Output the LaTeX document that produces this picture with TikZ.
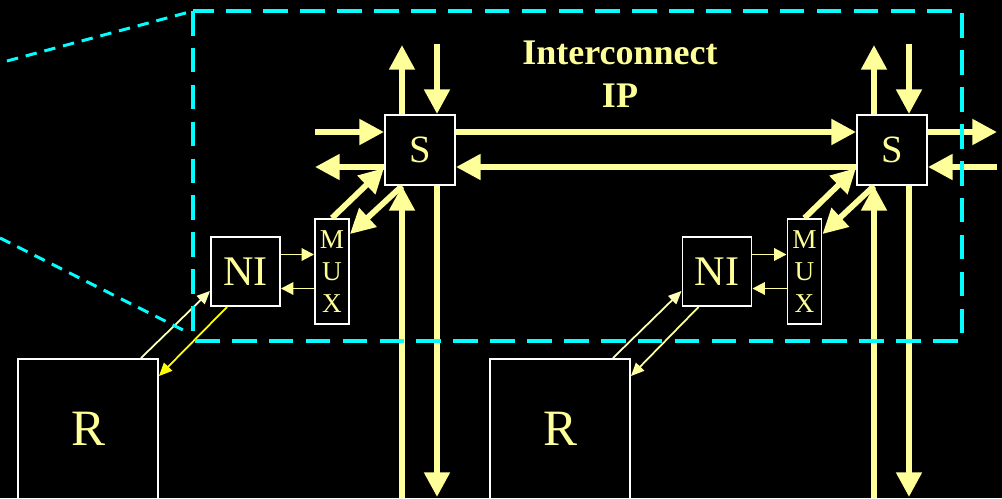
\documentclass[tikz,border=0pt]{standalone}
\usepackage{fontspec}
\setmainfont{Liberation Serif}
\usetikzlibrary{arrows.meta,calc}
\definecolor{ylw}{HTML}{FFFF99}
\definecolor{cyn}{HTML}{00FFFF}
\definecolor{paleY}{HTML}{FFFFB8}
\definecolor{brY}{HTML}{FFFF00}
\begin{document}
\begin{tikzpicture}[x=0.02cm,y=-0.02cm,
  box/.style={draw=white,line width=1.1pt,fill=black,text=ylw,inner sep=0pt},
  sbox/.style={box,minimum width=1.4cm,minimum height=1.4cm,font=\fontsize{22}{24}\selectfont},
  nibox/.style={box,minimum width=1.38cm,minimum height=1.38cm,font=\fontsize{24}{28}\selectfont},
  muxbox/.style={box,minimum width=0.68cm,minimum height=2.1cm,align=center,font=\fontsize{15.5}{18}\selectfont},
  rbox/.style={box,minimum width=2.8cm,minimum height=2.8cm,font=\fontsize{29}{32}\selectfont},
  bigarrow/.style={draw=ylw,line width=3.3pt,-{Triangle[length=14pt,width=14pt]}},
  smallarrow/.style={draw=ylw,line width=1.1pt,-{Triangle[length=7pt,width=7pt]}},
  rarrow/.style={line width=1pt,-{Triangle[length=7.5pt,width=6.5pt]}},
  frame/.style={draw=cyn,line width=2.8pt,dash pattern=on 14pt off 7pt},
  zoomline/.style={draw=cyn,line width=1.7pt,dash pattern=on 6.5pt off 4.5pt},
  title/.style={text=ylw,align=center,font=\bfseries\fontsize{20.5}{24.4}\selectfont}
]
\fill[black] (0,0) rectangle (1002,498);
\useasboundingbox (0,0) rectangle (1002,498);

% nodes
\node[sbox] (S1) at (420,150) {S};
\node[sbox] (S2) at (892,150) {S};
\node[nibox] (NI1) at (245.5,271.5) {NI};
\node[nibox] (NI2) at (717,271.5) {NI};
\node[muxbox] (MUX1) at (332,271.5) {M\\U\\X};
\node[muxbox] (MUX2) at (804.5,271.5) {M\\U\\X};
\node[rbox] (R1) at (88,429) {R};
\node[rbox] (R2) at (560,429) {R};
\node[title] (T) at (620,74) {Interconnect\\IP};

% free ends
\coordinate (u1) at (402,45);
\coordinate (d1) at (437,44);
\coordinate (l1in) at (315,132);
\coordinate (l1out) at (315,167);
\coordinate (b1up) at (402,498);
\coordinate (b1dn) at (437,497);
\coordinate (u2) at (874,45);
\coordinate (d2) at (909,44);
\coordinate (r2out) at (997,132);
\coordinate (r2in) at (997,167);
\coordinate (b2up) at (874,498);
\coordinate (b2dn) at (909,497);

% switch 1
\draw[bigarrow] ($(S1.north)+(-18,0)$) -- (u1);
\draw[bigarrow] (d1) -- ($(S1.north)+(17,0)$);
\draw[bigarrow] (l1in) -- ($(S1.west)+(0,-18)$);
\draw[bigarrow] ($(S1.west)+(0,17)$) -- (l1out);
\draw[bigarrow] (b1up) -- ($(S1.south)+(-18,0)$);
\draw[bigarrow] ($(S1.south)+(17,0)$) -- (b1dn);
% switch 2
\draw[bigarrow] ($(S2.north)+(-18,0)$) -- (u2);
\draw[bigarrow] (d2) -- ($(S2.north)+(17,0)$);
\draw[bigarrow] ($(S2.east)+(0,-18)$) -- (r2out);
\draw[bigarrow] (r2in) -- ($(S2.east)+(0,17)$);
\draw[bigarrow] (b2up) -- ($(S2.south)+(-18,0)$);
\draw[bigarrow] ($(S2.south)+(17,0)$) -- (b2dn);
% links between switches
\draw[bigarrow] ($(S1.east)+(0,-18)$) -- ($(S2.west)+(0,-18)$);
\draw[bigarrow] ($(S2.west)+(0,17)$) -- ($(S1.east)+(0,17)$);
% mux <-> switch
\draw[bigarrow] (MUX1.north) -- ($(S1.west)+(0,18)$);
\draw[bigarrow] ($(S1.south)+(-18,0)$) -- ($(MUX1.north east)+(0,16)$);
\draw[bigarrow] (MUX2.north) -- ($(S2.west)+(0,18)$);
\draw[bigarrow] ($(S2.south)+(-18,0)$) -- ($(MUX2.north east)+(0,16)$);
% NI <-> mux
\draw[smallarrow] ($(NI1.east)+(0,-17)$) -- ($(MUX1.west)+(0,-17)$);
\draw[smallarrow] ($(MUX1.west)+(0,17)$) -- ($(NI1.east)+(0,17)$);
\draw[smallarrow] ($(NI2.east)+(0,-17)$) -- ($(MUX2.west)+(0,-17)$);
\draw[smallarrow] ($(MUX2.west)+(0,17)$) -- ($(NI2.east)+(0,17)$);
% R <-> NI
\draw[rarrow,draw=paleY,fill=paleY] ($(R1.north east)+(-18,0)$) -- ($(NI1.south west)+(0,-16)$);
\draw[rarrow,draw=brY,fill=brY] ($(NI1.south west)+(17,0)$) -- ($(R1.north east)+(0,18)$);
\draw[rarrow,draw=paleY,fill=paleY] ($(R2.north east)+(-18,0)$) -- ($(NI2.south west)+(0,-16)$);
\draw[rarrow,draw=ylw,fill=ylw] ($(NI2.south west)+(17,0)$) -- ($(R2.north east)+(0,18)$);

% interconnect frame and zoom lines
\coordinate (ftl) at (193,11);
\coordinate (fbr) at (962,341);
\coordinate (z1) at (7,61);
\coordinate (z2) at (0,238);
\coordinate (z2e) at (189,333);
\draw[frame] (ftl) rectangle (fbr);
\draw[zoomline] (z1) -- (ftl);
\draw[zoomline] (z2) -- (z2e);
\end{tikzpicture}
\end{document}
